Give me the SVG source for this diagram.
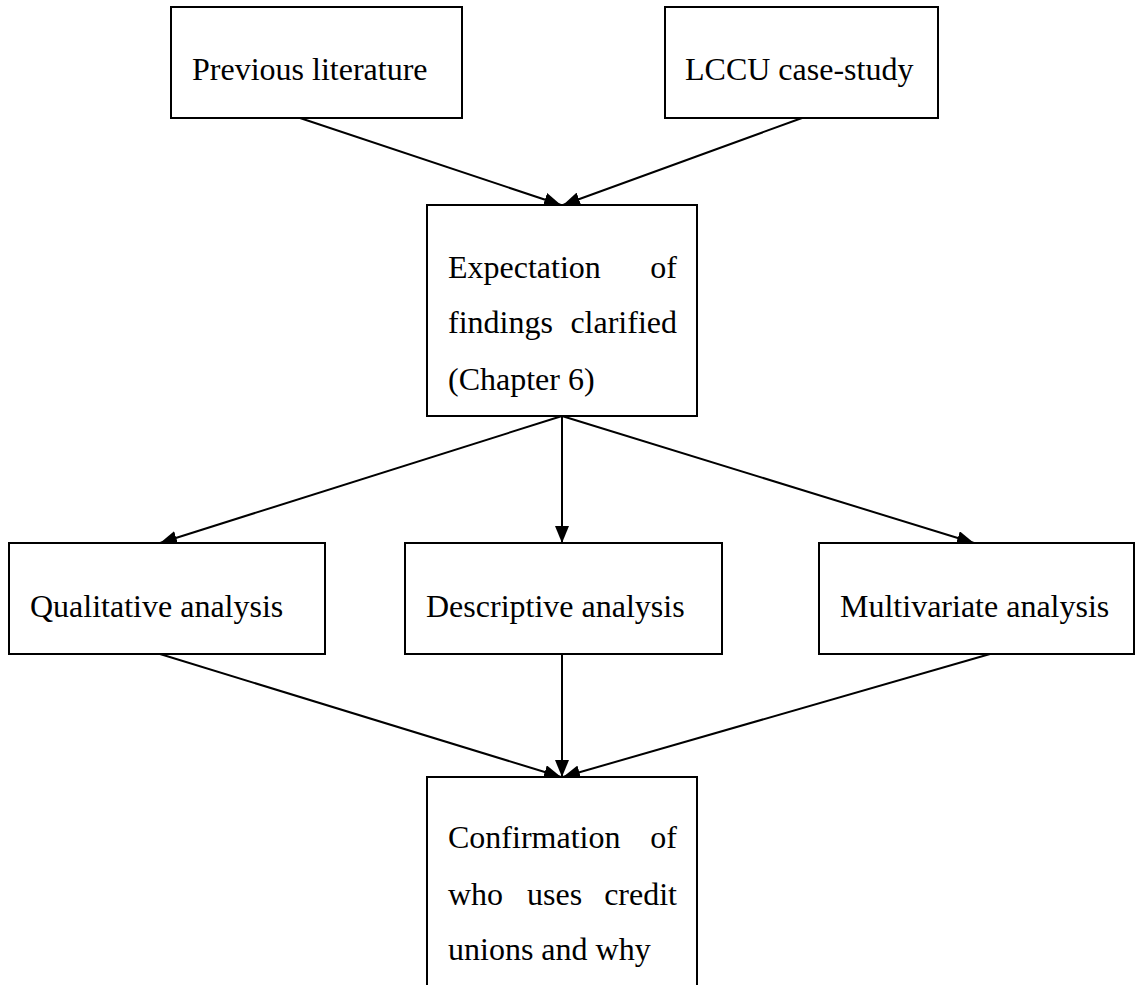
<svg xmlns="http://www.w3.org/2000/svg" width="1135" height="985" viewBox="0 0 1135 985">
  <defs>
    <marker id="arrow" markerWidth="17" markerHeight="14" refX="17" refY="7" orient="auto" markerUnits="userSpaceOnUse">
      <path d="M0,0 L17,7 L0,14 Z" fill="#000"/>
    </marker>
    <style>
      .box { fill: #fff; stroke: #000; stroke-width: 2; }
      .lbl { font-family: "Liberation Serif", "Times New Roman", serif; font-size: 32px; fill: #000; }
      .end { text-anchor: end; }
      .edge { stroke: #000; stroke-width: 2; fill: none; marker-end: url(#arrow); }
    </style>
  </defs>
  <rect width="1135" height="985" fill="#fff"/>

  <g id="connectors">
    <line class="edge" x1="300" y1="118" x2="561" y2="205"/>
    <line class="edge" x1="802" y1="118" x2="563" y2="205"/>
    <line class="edge" x1="562" y1="416" x2="160" y2="543"/>
    <line class="edge" x1="562" y1="416" x2="562" y2="543"/>
    <line class="edge" x1="562" y1="416" x2="974" y2="543"/>
    <line class="edge" x1="160" y1="654" x2="561" y2="777"/>
    <line class="edge" x1="562" y1="654" x2="562" y2="777"/>
    <line class="edge" x1="990" y1="654" x2="563" y2="777"/>
  </g>

  <g id="previous-literature">
    <rect class="box" x="171" y="7" width="291" height="111"/>
    <text class="lbl" x="192" y="80">Previous literature</text>
  </g>

  <g id="lccu-case-study">
    <rect class="box" x="665" y="7" width="273" height="111"/>
    <text class="lbl" x="685" y="80">LCCU case-study</text>
  </g>

  <g id="expectation">
    <rect class="box" x="427" y="205" width="270" height="211"/>
    <text class="lbl" x="448" y="278">Expectation</text>
    <text class="lbl end" x="677" y="278">of</text>
    <text class="lbl" x="448" y="333">findings</text>
    <text class="lbl end" x="677" y="333">clarified</text>
    <text class="lbl" x="448" y="390">(Chapter 6)</text>
  </g>

  <g id="qualitative">
    <rect class="box" x="9" y="543" width="316" height="111"/>
    <text class="lbl" x="30" y="617">Qualitative analysis</text>
  </g>

  <g id="descriptive">
    <rect class="box" x="405" y="543" width="317" height="111"/>
    <text class="lbl" x="426" y="617">Descriptive analysis</text>
  </g>

  <g id="multivariate">
    <rect class="box" x="819" y="543" width="315" height="111"/>
    <text class="lbl" x="840" y="617">Multivariate analysis</text>
  </g>

  <g id="confirmation">
    <path class="box" d="M427,990 L427,777 L697,777 L697,990"/>
    <text class="lbl" x="448" y="848">Confirmation</text>
    <text class="lbl end" x="677" y="848">of</text>
    <text class="lbl" x="448" y="905">who</text>
    <text class="lbl" x="527" y="905">uses</text>
    <text class="lbl end" x="677" y="905">credit</text>
    <text class="lbl" x="448" y="960">unions and why</text>
  </g>
</svg>
